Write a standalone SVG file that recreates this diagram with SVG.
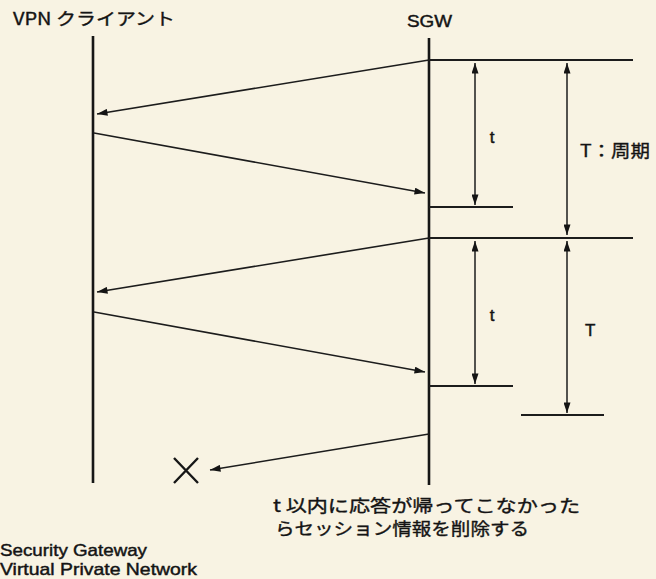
<svg xmlns="http://www.w3.org/2000/svg" width="656" height="579" viewBox="0 0 656 579">
<style>
.bg{fill:#f8f3e3}
.life{stroke:#161616;stroke-width:2.6;fill:none}
.msg{stroke:#1c1c1c;stroke-width:1.6;fill:none}
.hl{stroke:#1c1c1c;stroke-width:1.8;fill:none}
.dim{stroke:#1c1c1c;stroke-width:1.5;fill:none}
.tx{font-family:"Liberation Sans","Noto Sans CJK JP",sans-serif;fill:#141414;stroke:#141414;stroke-width:0.45;font-size:17px}
.jp{font-family:"Noto Sans CJK JP","Liberation Sans",sans-serif;fill:#141414;stroke:#141414;stroke-width:0.35;font-size:17px}
</style>
<defs>
<marker id="ah" viewBox="0 0 12 8" refX="12" refY="4" markerWidth="13" markerHeight="7" markerUnits="userSpaceOnUse" orient="auto-start-reverse">
<path d="M0,0 L12,4 L0,8 z" fill="#141414"/>
</marker>
</defs>
<rect class="bg" x="0" y="0" width="656" height="579"/>

<g id="client">
<line class="life" x1="93" y1="36" x2="93" y2="483"/>
<text class="jp" x="13" y="25" textLength="162" lengthAdjust="spacingAndGlyphs">VPN クライアント</text>
</g>
<g id="sgw">
<line class="life" x1="429" y1="38" x2="429" y2="485"/>
<text class="tx" x="407" y="27" textLength="45" lengthAdjust="spacingAndGlyphs">SGW</text>
</g>

<g id="timing">
<line class="hl" x1="429" y1="60" x2="633" y2="60"/>
<line class="hl" x1="429" y1="207" x2="513" y2="207"/>
<line class="hl" x1="429" y1="238" x2="633" y2="238"/>
<line class="hl" x1="429" y1="386" x2="513" y2="386"/>
<line class="hl" x1="521" y1="415" x2="604" y2="415"/>
<line class="dim" x1="475" y1="63" x2="475" y2="205" marker-start="url(#ah)" marker-end="url(#ah)"/>
<line class="dim" x1="567" y1="63" x2="567" y2="235" marker-start="url(#ah)" marker-end="url(#ah)"/>
<line class="dim" x1="475" y1="241" x2="475" y2="384" marker-start="url(#ah)" marker-end="url(#ah)"/>
<line class="dim" x1="567" y1="241" x2="567" y2="413" marker-start="url(#ah)" marker-end="url(#ah)"/>
<text class="tx" x="492" y="143" text-anchor="middle" font-size="19">t</text>
<text class="jp" x="580" y="157" textLength="70" lengthAdjust="spacingAndGlyphs">T：周期</text>
<text class="tx" x="492" y="321" text-anchor="middle" font-size="19">t</text>
<text class="tx" x="585" y="336" font-size="19">T</text>
</g>

<g id="connectors">
<line class="msg" x1="429" y1="60" x2="97" y2="114" marker-end="url(#ah)"/>
<line class="msg" x1="94" y1="133" x2="425" y2="193" marker-end="url(#ah)"/>
<line class="msg" x1="429" y1="238" x2="97" y2="292" marker-end="url(#ah)"/>
<line class="msg" x1="94" y1="312" x2="425" y2="372" marker-end="url(#ah)"/>
<line class="msg" x1="429" y1="434" x2="210" y2="470" marker-end="url(#ah)"/>
</g>

<g id="lost">
<path d="M174,458 L198,483 M198,458 L174,483" stroke="#161616" stroke-width="2.4" fill="none"/>
</g>

<g id="note">
<text class="jp" x="273" y="512" font-size="16" textLength="307" lengthAdjust="spacingAndGlyphs">t 以内に応答が帰ってこなかった</text>
<text class="jp" x="275" y="535" font-size="16" textLength="254" lengthAdjust="spacingAndGlyphs">らセッション情報を削除する</text>
</g>

<g id="legend">
<text class="tx" x="0" y="556" textLength="147" lengthAdjust="spacingAndGlyphs">Security Gateway</text>
<text class="tx" x="0" y="575" font-size="16.5" textLength="197" lengthAdjust="spacingAndGlyphs">Virtual Private Network</text>
</g>
</svg>
